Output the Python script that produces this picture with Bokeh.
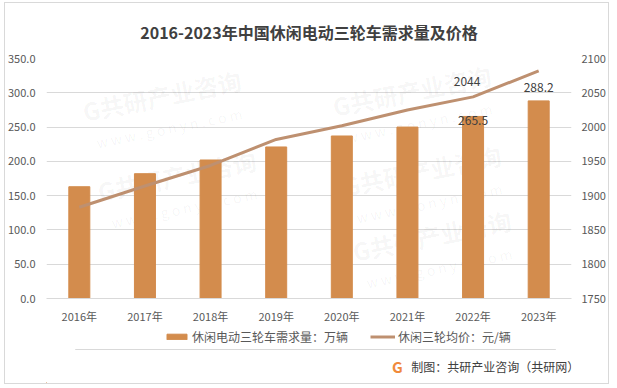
from bokeh.plotting import figure
from bokeh.layouts import column
from bokeh.models import (Range1d, LinearAxis, FixedTicker, NumeralTickFormatter,
                          Legend, LegendItem, Label, ColumnDataSource)
from bokeh.core.properties import value
from bokeh.embed import file_html
from bokeh.resources import INLINE

# ---- data ----
years = ["2016年", "2017年", "2018年", "2019年", "2020年", "2021年", "2022年", "2023年"]
demand = [163.0, 182.0, 202.0, 221.0, 237.0, 250.0, 265.5, 288.2]   # 万辆
price = [1883, 1914, 1944, 1982, 2002, 2025, 2044, 2082]            # 元/辆
left_ticks = [0, 50, 100, 150, 200, 250, 300, 350]
right_ticks = [1750, 1800, 1850, 1900, 1950, 2000, 2050, 2100]

title_text = "2016-2023年中国休闲电动三轮车需求量及价格"
bar_name = "休闲电动三轮车需求量：万辆"
line_name = "休闲三轮均价：元/辆"
source_text = "制图：共研产业咨询（共研网）"
logo_text = "G"

FONT = "Noto Sans CJK SC"
BAR_C = "#D38C4D"
LINE_C = "#BE9070"
GRID_C = "#D9D9D9"
TXT_C = "#595959"
DARK_C = "#404040"

src = ColumnDataSource(dict(year=years, demand=demand, price=price))

# ---------------- main chart ----------------
p = figure(width=603, height=323, x_range=years, y_range=Range1d(0, 350),
           output_backend="svg", toolbar_location=None,
           min_border_left=40, min_border_right=36, min_border_top=53, min_border_bottom=28)
p.extra_y_ranges = {"price": Range1d(1750, 2100)}
p.outline_line_color = None
p.background_fill_color = "white"
p.border_fill_color = "white"

p.title.text = title_text
p.title.align = "center"
p.title.text_font = FONT
p.title.text_font_size = "16px"
p.title.text_font_style = "bold"
p.title.text_color = DARK_C
p.title.standoff = 29

# faint watermarks, kept fully inside the frame
wm_pos = [(40, 170), (55, 90), (290, 175), (300, 95), (310, 30)]
for (wx, wy) in wm_pos:
    p.add_layout(Label(x=wx, y=wy, x_units="screen", y_units="screen",
                       text="G共研产业咨询", text_font=FONT, text_font_size="24px",
                       text_font_style="bold", text_color="#000000", text_alpha=0.045,
                       angle=0.2, level="underlay"))
    p.add_layout(Label(x=wx + 12, y=wy - 24, x_units="screen", y_units="screen",
                       text="w w w . g o n y n . c o m", text_font=FONT, text_font_size="14px",
                       text_color="#000000", text_alpha=0.045, angle=0.2, level="underlay"))

bars = p.vbar(x="year", top="demand", width=0.32, source=src, color=BAR_C)
line = p.line(x="year", y="price", source=src, y_range_name="price",
              line_color=LINE_C, line_width=3)

# axes
p.yaxis.ticker = FixedTicker(ticks=left_ticks)
p.yaxis.formatter = NumeralTickFormatter(format="0.0")
ra = LinearAxis(y_range_name="price", ticker=FixedTicker(ticks=right_ticks))
p.add_layout(ra, "right")
for ax in (p.yaxis[0], ra):
    ax.axis_line_color = None
    ax.major_tick_line_color = None
    ax.minor_tick_line_color = None
    ax.major_tick_out = 0
    ax.major_tick_in = 0
    ax.major_label_text_font = FONT
    ax.major_label_text_font_size = "11px"
    ax.major_label_text_color = TXT_C
p.yaxis[0].major_label_standoff = 11
ra.major_label_standoff = 10
xa = p.xaxis[0]
xa.axis_line_color = GRID_C
xa.major_tick_line_color = None
xa.minor_tick_line_color = None
xa.major_tick_out = 0
xa.major_tick_in = 0
xa.major_label_text_font = FONT
xa.major_label_text_font_size = "11px"
xa.major_label_text_color = TXT_C
xa.major_label_standoff = 9

p.xgrid.grid_line_color = None
p.ygrid.grid_line_color = GRID_C

# data labels
lbl_line = ColumnDataSource(dict(x=[years[6]], y=[price[6]], t=[str(price[6])]))
lbl_b1 = ColumnDataSource(dict(x=[years[6]], y=[demand[6]], t=[f"{demand[6]:.1f}"]))
lbl_b2 = ColumnDataSource(dict(x=[years[7]], y=[demand[7]], t=[f"{demand[7]:.1f}"]))
common = dict(text="t", text_font=value(FONT), text_font_size="12px",
              text_color=DARK_C, text_align="center")
p.text(x="x", y="y", source=lbl_line, y_range_name="price", text_baseline="bottom",
       x_offset=-6, y_offset=-11, **common)
p.text(x="x", y="y", source=lbl_b1, text_baseline="middle", y_offset=4, **common)
p.text(x="x", y="y", source=lbl_b2, text_baseline="bottom", y_offset=-9, **common)

# ---------------- footer: legend + separator + source ----------------
FW, FH = 603, 57
f = figure(width=FW, height=FH, x_range=Range1d(0, FW), y_range=Range1d(0, FH),
           output_backend="svg", toolbar_location=None, min_border=0)
f.axis.visible = False
f.grid.visible = False
f.outline_line_color = None
f.background_fill_color = "white"
f.border_fill_color = "white"

# legend keys styled like the chart's renderers (kept outside the visible range)
bar_key = f.vbar(x=[-50], top=[1], width=1, color=BAR_C)
line_key = f.line(x=[-60, -50], y=[1, 1], line_color=LINE_C, line_width=3)
legend = Legend(items=[LegendItem(label=bar_name, renderers=[bar_key]),
                       LegendItem(label=line_name, renderers=[line_key])],
                orientation="horizontal", location=(118, 38),
                label_text_font=FONT, label_text_font_size="12px", label_text_color=TXT_C,
                glyph_width=25, glyph_height=7, label_height=14, label_standoff=3,
                spacing=22, padding=0, margin=0, border_line_alpha=0,
                background_fill_alpha=0)
f.add_layout(legend, "center")

sep = ColumnDataSource(dict(x0=[33], x1=[585], y=[34]))
f.segment(x0="x0", y0="y", x1="x1", y1="y", source=sep, line_color=GRID_C, line_width=1)
foot = ColumnDataSource(dict(x=[403, 419], y=[17, 17], t=[logo_text, source_text],
                             c=["#F08A3C", DARK_C], s=["bold", "normal"],
                             fs=["15px", "12px"], a=["center", "left"]))
f.text(x="x", y="y", text="t", source=foot, text_font=value(FONT), text_font_size="fs",
       text_color="c", text_font_style="s", text_align="a", text_baseline="middle")

layout = column(p, f, spacing=0, margin=(2, 0, 0, 4),
                styles={"border": "1px solid #D9D9D9"})
open("out.html", "w").write(file_html(layout, INLINE))
